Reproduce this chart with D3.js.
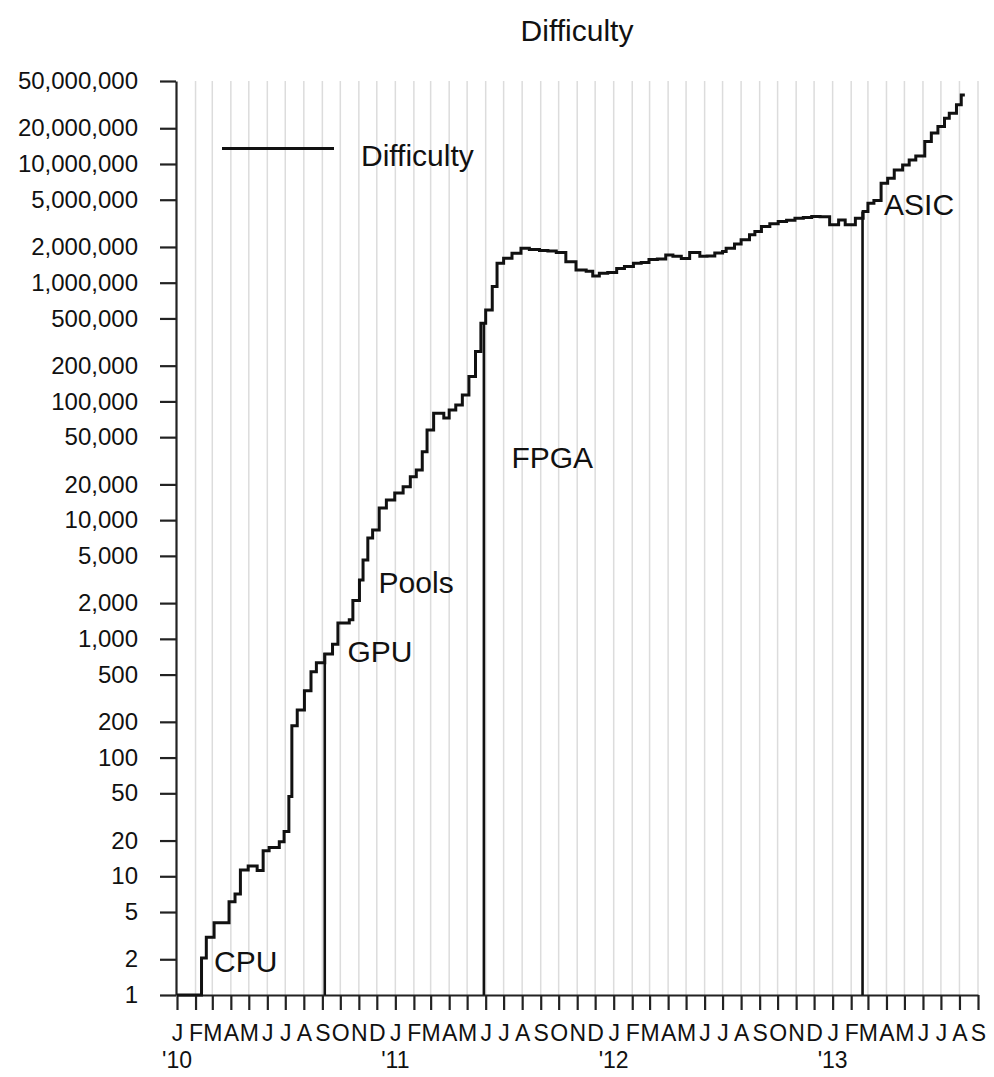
<!DOCTYPE html>
<html><head><meta charset="utf-8">
<script src="https://cdn.jsdelivr.net/npm/d3@7"></script>
<style>
body{margin:0;background:#fff}
svg{display:block}
text{font-family:"Liberation Sans",Arial,Helvetica,sans-serif;fill:#111}
</style>
</head><body>
<svg id="chart" width="994" height="1077"></svg>
<script>
// ---- data ----
const stepDates = ["2010-01-01","2010-02-11","2010-02-19","2010-03-04","2010-03-29","2010-04-08","2010-04-17","2010-04-30","2010-05-15","2010-05-25","2010-06-04","2010-06-21","2010-06-29","2010-07-07","2010-07-12","2010-07-21","2010-08-02","2010-08-13","2010-08-22","2010-09-05","2010-09-18","2010-09-27","2010-10-16","2010-10-22","2010-11-02","2010-11-08","2010-11-16","2010-11-24","2010-12-05","2010-12-17","2010-12-31","2011-01-14","2011-01-26","2011-02-05","2011-02-15","2011-02-23","2011-03-06","2011-03-23","2011-04-01","2011-04-12","2011-04-23","2011-05-04","2011-05-15","2011-05-24","2011-06-01","2011-06-12","2011-06-20","2011-07-01","2011-07-15","2011-07-30","2011-08-13","2011-08-30","2011-09-13","2011-09-27","2011-10-13","2011-10-30","2011-11-16","2011-11-27","2011-12-08","2011-12-22","2012-01-06","2012-01-19","2012-02-03","2012-02-16","2012-02-29","2012-03-14","2012-03-28","2012-04-09","2012-04-23","2012-05-07","2012-05-24","2012-06-05","2012-06-18","2012-07-01","2012-07-07","2012-07-21","2012-08-01","2012-08-15","2012-08-24","2012-09-04","2012-09-18","2012-10-02","2012-10-16","2012-10-30","2012-11-13","2012-11-27","2012-12-11","2012-12-27","2013-01-11","2013-01-22","2013-02-08","2013-02-21","2013-03-01","2013-03-11","2013-03-23","2013-04-03","2013-04-14","2013-04-28","2013-05-09","2013-05-20","2013-06-04","2013-06-15","2013-06-26","2013-07-07","2013-07-15","2013-07-27","2013-08-04","2013-08-10"];
const stepValues = [1,2.05,3.06,4.06,6.1,7.1,11.3,12.2,11.2,16.4,17.5,19.5,23.8,46.9,185,252,366,529,630,746,900,1361,1450,2100,3135,4620,7080,8270,12680,14800,16950,19150,23250,26500,37700,57500,79400,72600,84800,93400,113500,161800,263000,456000,590000,927000,1460000,1610000,1770000,1950000,1900000,1870000,1850000,1800000,1500000,1280000,1250000,1140000,1200000,1220000,1320000,1370000,1460000,1480000,1570000,1580000,1710000,1670000,1600000,1800000,1670000,1680000,1780000,1830000,1950000,2120000,2300000,2530000,2700000,2970000,3130000,3270000,3350000,3490000,3550000,3610000,3600000,3070000,3380000,3070000,3490000,3970000,4680000,4920000,6890000,7590000,8900000,9800000,10800000,11700000,15500000,18200000,20700000,24300000,26800000,31500000,38200000,38200000];

const yTickValues = [1,2,5,10,20,50,100,200,500,1000,2000,5000,10000,20000,50000,100000,200000,500000,1000000,2000000,5000000,10000000,20000000,50000000];
const monthLabels = ["J","F","M","A","M","J","J","A","S","O","N","D"];
const yearLabels = ["'10","'11","'12","'13"];
const yearDates = ["2010-01-01","2011-01-01","2012-01-01","2013-01-01"];

const markerNames = ["GPU","FPGA","ASIC"];
const markerDates = ["2010-09-05","2011-05-29","2013-02-20"];
const markerValues = [760, 456000, 3970000];

const noteNames = ["CPU","GPU","Pools","FPGA","ASIC"];
const noteDates = ["2010-03-04","2010-10-13","2010-12-04","2011-07-14","2013-03-28"];
const noteValues = [1.57, 643, 2421, 27700, 3730000];

const titleText = "Difficulty";
const seriesName = "Difficulty";

(function () {
// ---- layout ----
const mLeft = 176, mRight = 978, mTop = 81, mBottom = 995;
const parse = d3.utcParse("%Y-%m-%d");

const svg = d3.select("#chart");
const x = d3.scaleUtc().domain([parse("2010-01-01"), parse("2013-09-01")]).range([mLeft + 1, mRight]);
const y = d3.scaleLog().domain([1, 5e7]).range([mBottom, mTop]);

const months = d3.utcMonth.range(parse("2010-01-01"), d3.utcDay.offset(parse("2013-09-01"), 1));

// grid
svg.append("g").selectAll("line").data(months.slice(1)).join("line")
  .attr("x1", d => x(d)).attr("x2", d => x(d))
  .attr("y1", mTop).attr("y2", mBottom)
  .attr("stroke", "#dcdcdc").attr("stroke-width", 1.5);

// y axis
const yAxis = d3.axisLeft(y).tickValues(yTickValues).tickFormat(d3.format(",")).tickSize(16).tickPadding(22).tickSizeOuter(0);
const gy = svg.append("g").attr("transform", `translate(${mLeft},0)`).call(yAxis);
gy.select(".domain").attr("stroke", "#222").attr("stroke-width", 2.2);
gy.selectAll(".tick line").attr("stroke", "#222").attr("stroke-width", 2.2);
gy.selectAll(".tick text").attr("font-size", 24).attr("fill", "#111")
  .style("font-family", '"Liberation Sans",Arial,sans-serif');

// x axis
const xAxis = d3.axisBottom(x).tickValues(months).tickFormat(d => monthLabels[d.getUTCMonth()]).tickSize(15).tickPadding(15).tickSizeOuter(0);
const gx = svg.append("g").attr("transform", `translate(0,${mBottom})`).call(xAxis);
gx.select(".domain").attr("stroke", "#222").attr("stroke-width", 2.2);
gx.selectAll(".tick line").attr("stroke", "#222").attr("stroke-width", 2.2);
gx.selectAll(".tick text").attr("font-size", 23).attr("fill", "#111")
  .style("font-family", '"Liberation Sans",Arial,sans-serif');

// year labels
svg.append("g").selectAll("text").data(yearDates).join("text")
  .attr("x", d => x(parse(d))).attr("y", mBottom + 73)
  .attr("text-anchor", "middle").attr("font-size", 23)
  .text((d, i) => yearLabels[i]);

// marker lines
svg.append("g").selectAll("line").data(markerDates).join("line")
  .attr("x1", d => x(parse(d))).attr("x2", d => x(parse(d)))
  .attr("y1", y(1)).attr("y2", (d, i) => y(markerValues[i]))
  .attr("stroke", "#111").attr("stroke-width", 2.6);

// step line
const pts = stepDates.map((d, i) => [parse(d), stepValues[i]]);
const line = d3.line().x(d => x(d[0])).y(d => y(d[1])).curve(d3.curveStepAfter);
svg.append("path").attr("d", line(pts)).attr("fill", "none")
  .attr("stroke", "#111").attr("stroke-width", 3).attr("stroke-linejoin", "miter");

// annotations
svg.append("g").selectAll("text").data(noteNames).join("text")
  .attr("x", (d, i) => x(parse(noteDates[i]))).attr("y", (d, i) => y(noteValues[i]))
  .attr("font-size", 30).text(d => d);

// legend
svg.append("line").attr("x1", 222).attr("x2", 334).attr("y1", 148.5).attr("y2", 148.5)
  .attr("stroke", "#111").attr("stroke-width", 2.8);
svg.append("text").attr("x", 361).attr("y", 166).attr("font-size", 30).text(seriesName);

// title
svg.append("text").attr("x", (mLeft + mRight) / 2).attr("y", 41).attr("text-anchor", "middle")
  .attr("font-size", 30).text(titleText);
})();
</script>
</body></html>
